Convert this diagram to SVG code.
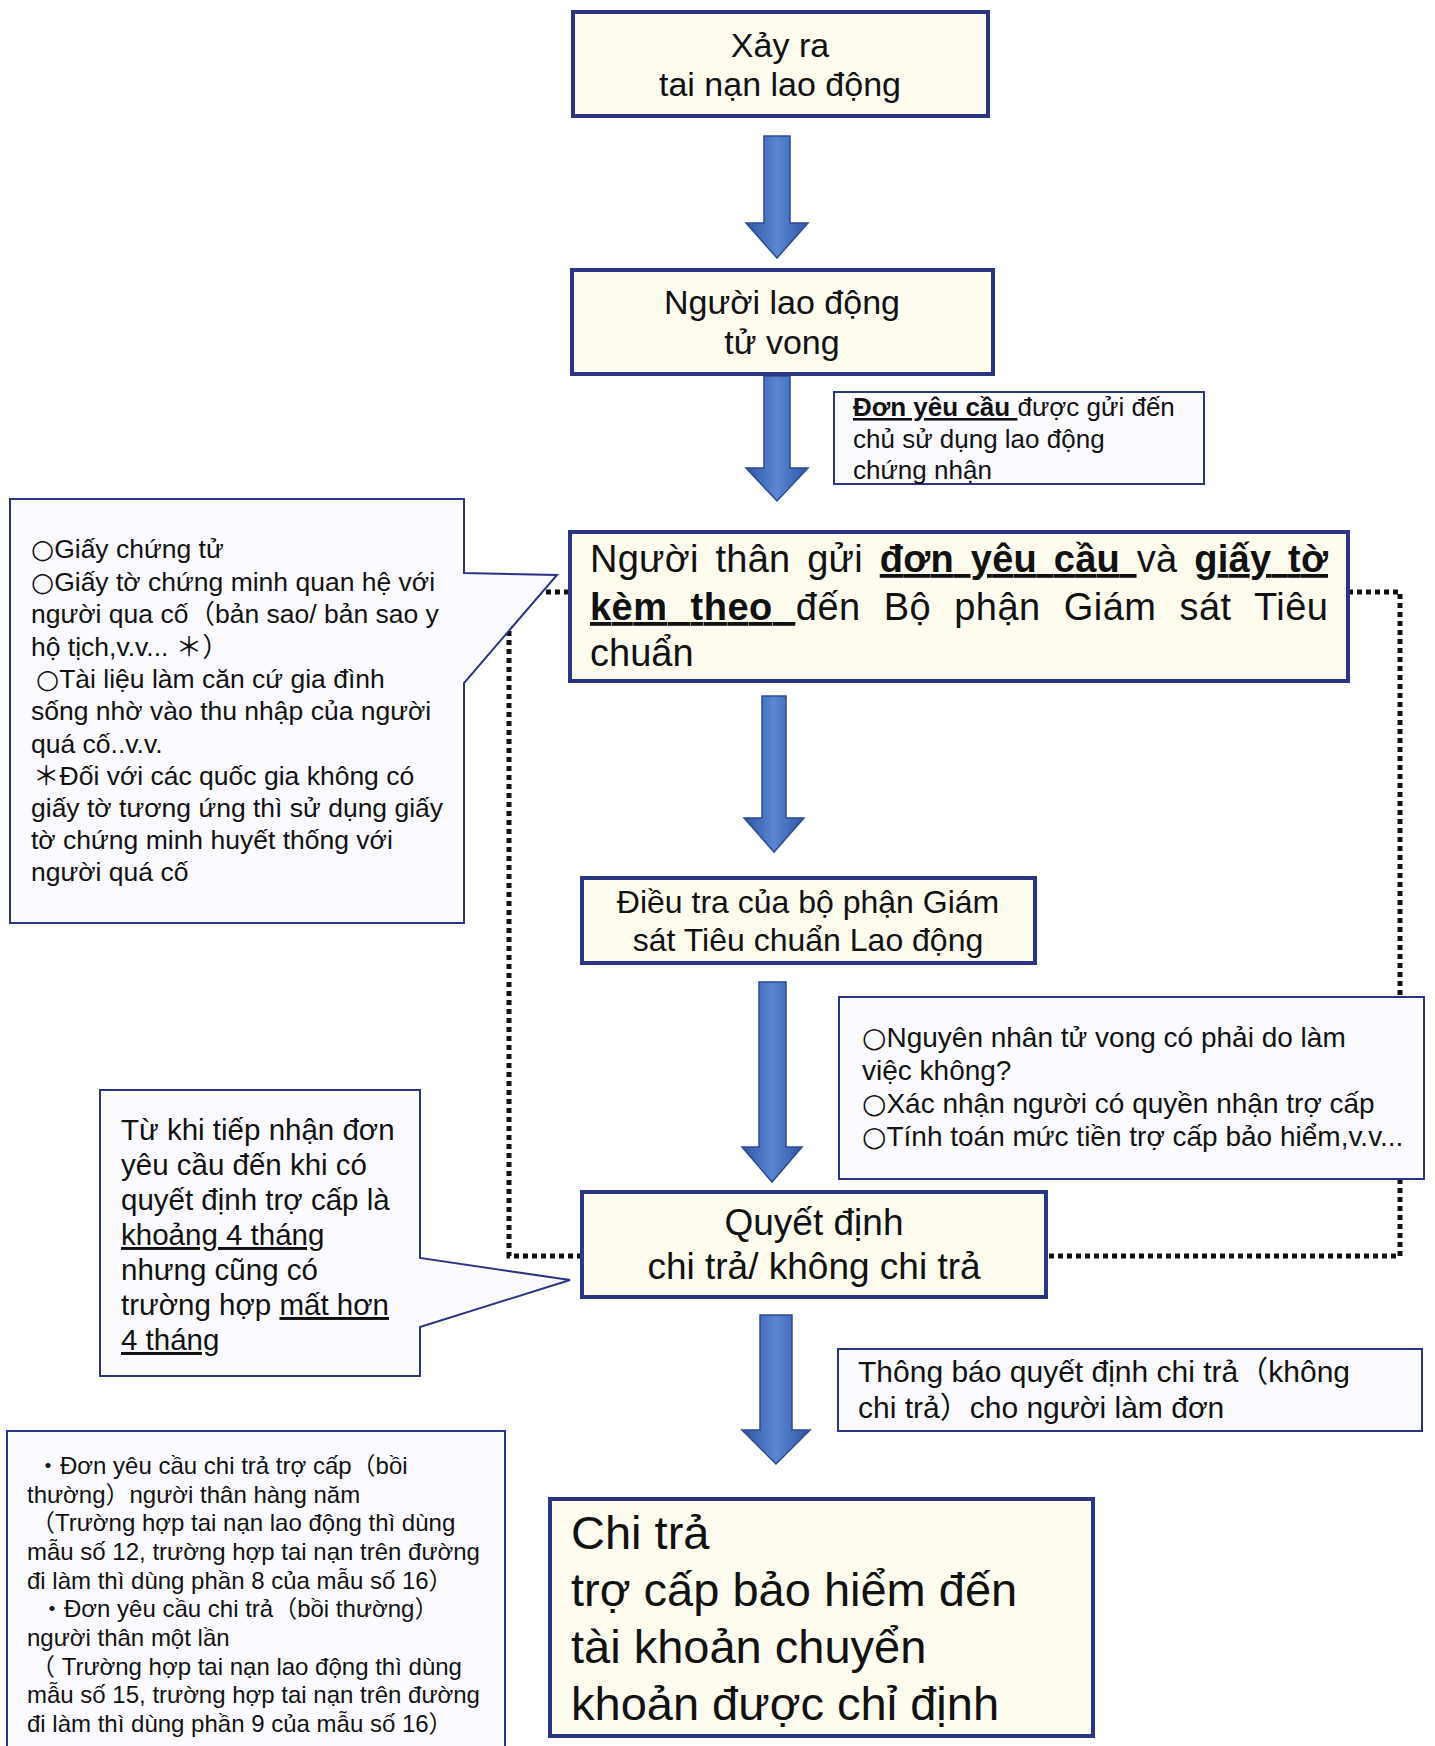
<svg xmlns="http://www.w3.org/2000/svg" width="1435" height="1746" viewBox="0 0 1435 1746">
<defs>
<linearGradient id="ag" x1="0" y1="0" x2="1" y2="0">
<stop offset="0" stop-color="#2f55a3"/>
<stop offset="0.5" stop-color="#5a86d4"/>
<stop offset="1" stop-color="#2f55a3"/>
</linearGradient>
</defs>
<style>
.box{fill:#fdfcef;stroke:#2a3584;stroke-width:4}
.note{fill:#fbfbff;stroke:#2a3584;stroke-width:2}
.t{font-family:"Liberation Sans",Arial,"Noto Sans CJK JP",sans-serif;fill:#111}
.c{font-family:"DejaVu Sans",sans-serif}
.arrow{fill:url(#ag);stroke:#2c4a92;stroke-width:1.5}
.dot{fill:none;stroke:#111;stroke-width:5;stroke-dasharray:5 4}
.u{text-decoration:underline}
.b{font-weight:bold}
</style>
<rect width="1435" height="1746" fill="#ffffff"/>
<g id="connectors">
<path class="dot" d="M569,592 H509 V1256 H582"/>
<path class="dot" d="M1348,592 H1400 V1256 H1046"/>
<polygon class="arrow" points="764,136 790,136 790,223 808,223 777,258 746,223 764,223"/>
<polygon class="arrow" points="764,376 790,376 790,468 808,468 777,501 746,468 764,468"/>
<polygon class="arrow" points="762,696 786,696 786,818 804,818 774,852 744,818 762,818"/>
<polygon class="arrow" points="759,982 786,982 786,1147 802,1147 772,1182 742,1147 759,1147"/>
<polygon class="arrow" points="760,1315 792,1315 792,1430 810,1430 776,1464 742,1430 760,1430"/>
</g>
<g id="n-accident">
<rect class="box" x="573" y="12" width="415" height="104"/>
<text class="t" x="780" y="57" text-anchor="middle" font-size="34">Xảy ra</text>
<text class="t" x="780" y="96" text-anchor="middle" font-size="34">tai nạn lao động</text>
</g>
<g id="n-death">
<rect class="box" x="572" y="270" width="421" height="104"/>
<text class="t" x="782" y="314" text-anchor="middle" font-size="34">Người lao động</text>
<text class="t" x="782" y="354" text-anchor="middle" font-size="34">tử vong</text>
</g>
<g id="n-employer-note">
<rect class="note" x="834" y="392" width="370" height="92"/>
<text class="t" x="853" y="416" font-size="26"><tspan class="b u">Đơn yêu cầu </tspan>được gửi đến</text>
<text class="t" x="853" y="448" font-size="26">chủ sử dụng lao động</text>
<text class="t" x="853" y="479" font-size="26">chứng nhận</text>
</g>
<g id="n-submit">
<rect class="box" x="570" y="532" width="778" height="149"/>
<text class="t" x="590" y="572" font-size="38" word-spacing="6" textLength="738" lengthAdjust="spacing">Người thân gửi <tspan class="b u">đơn yêu cầu </tspan>và <tspan class="b u">giấy tờ</tspan></text>
<text class="t" x="590" y="620" font-size="38" word-spacing="12" textLength="738" lengthAdjust="spacing"><tspan class="b u">kèm theo </tspan>đến Bộ phận Giám sát Tiêu</text>
<text class="t" x="590" y="666" font-size="38">chuẩn</text>
</g>
<g id="n-documents">
<path class="note" d="M10,499 H464 V573 L557,575 L464,683 V923 H10 Z"/>
<text class="t" font-size="26.5">
<tspan x="31" y="558"><tspan class="c">○</tspan>Giấy chứng tử</tspan>
<tspan x="31" y="591"><tspan class="c">○</tspan>Giấy tờ chứng minh quan hệ với</tspan>
<tspan x="31" y="623">người qua cố（bản sao/ bản sao y</tspan>
<tspan x="31" y="656">hộ tịch,v.v... ＊）</tspan>
<tspan x="36" y="688"><tspan class="c">○</tspan>Tài liệu làm căn cứ gia đình</tspan>
<tspan x="31" y="720">sống nhờ vào thu nhập của người</tspan>
<tspan x="31" y="753">quá cố..v.v.</tspan>
<tspan x="33" y="785">＊Đối với các quốc gia không có</tspan>
<tspan x="31" y="817">giấy tờ tương ứng thì sử dụng giấy</tspan>
<tspan x="31" y="849">tờ chứng minh huyết thống với</tspan>
<tspan x="31" y="881">người quá cố</tspan>
</text>
</g>
<g id="n-investigation">
<rect class="box" x="582" y="878" width="453" height="85"/>
<text class="t" x="808" y="913" text-anchor="middle" font-size="32">Điều tra của bộ phận Giám</text>
<text class="t" x="808" y="951" text-anchor="middle" font-size="32">sát Tiêu chuẩn Lao động</text>
</g>
<g id="n-check-note">
<rect class="note" x="839" y="997" width="585" height="182"/>
<text class="t" font-size="28">
<tspan x="862" y="1047"><tspan class="c">○</tspan>Nguyên nhân tử vong có phải do làm</tspan>
<tspan x="862" y="1080">việc không?</tspan>
<tspan x="862" y="1113"><tspan class="c">○</tspan>Xác nhận người có quyền nhận trợ cấp</tspan>
<tspan x="862" y="1146"><tspan class="c">○</tspan>Tính toán mức tiền trợ cấp bảo hiểm,v.v...</tspan>
</text>
</g>
<g id="n-decision">
<rect class="box" x="582" y="1192" width="464" height="105"/>
<text class="t" x="814" y="1235" text-anchor="middle" font-size="37">Quyết định</text>
<text class="t" x="814" y="1279" text-anchor="middle" font-size="37">chi trả/ không chi trả</text>
</g>
<g id="n-duration">
<path class="note" d="M100,1090 H420 V1258 L570,1280 L420,1327 V1376 H100 Z"/>
<text class="t" font-size="29.5">
<tspan x="121" y="1140">Từ khi tiếp nhận đơn</tspan>
<tspan x="121" y="1175">yêu cầu đến khi có</tspan>
<tspan x="121" y="1210">quyết định trợ cấp là</tspan>
<tspan x="121" y="1245" class="u">khoảng 4 tháng</tspan>
<tspan x="121" y="1280">nhưng cũng có</tspan>
<tspan x="121" y="1315">trường hợp <tspan class="u">mất hơn</tspan></tspan>
<tspan x="121" y="1350" class="u">4 tháng</tspan>
</text>
</g>
<g id="n-notice-note">
<rect class="note" x="838" y="1349" width="584" height="82"/>
<text class="t" font-size="30">
<tspan x="858" y="1382">Thông báo quyết định chi trả（không</tspan>
<tspan x="858" y="1418">chi trả）cho người làm đơn</tspan>
</text>
</g>
<g id="n-forms">
<rect class="note" x="7" y="1431" width="498" height="330"/>
<text class="t" font-size="24">
<tspan x="36" y="1474">・Đơn yêu cầu chi trả trợ cấp（bồi</tspan>
<tspan x="27" y="1503">thường）người thân hàng năm</tspan>
<tspan x="31" y="1531">（Trường hợp tai nạn lao động thì dùng</tspan>
<tspan x="27" y="1560">mẫu số 12, trường hợp tai nạn trên đường</tspan>
<tspan x="27" y="1589">đi làm thì dùng phần 8 của mẫu số 16）</tspan>
<tspan x="40" y="1617">・Đơn yêu cầu chi trả（bồi thường）</tspan>
<tspan x="27" y="1646">người thân một lần</tspan>
<tspan x="31" y="1675">（ Trường hợp tai nạn lao động thì dùng</tspan>
<tspan x="27" y="1703">mẫu số 15, trường hợp tai nạn trên đường</tspan>
<tspan x="27" y="1732">đi làm thì dùng phần 9 của mẫu số 16）</tspan>
</text>
</g>
<g id="n-payment">
<rect class="box" x="550" y="1499" width="543" height="237"/>
<text class="t" font-size="47">
<tspan x="571" y="1549">Chi trả</tspan>
<tspan x="571" y="1606">trợ cấp bảo hiểm đến</tspan>
<tspan x="571" y="1663">tài khoản chuyển</tspan>
<tspan x="571" y="1720">khoản được chỉ định</tspan>
</text>
</g>
</svg>
